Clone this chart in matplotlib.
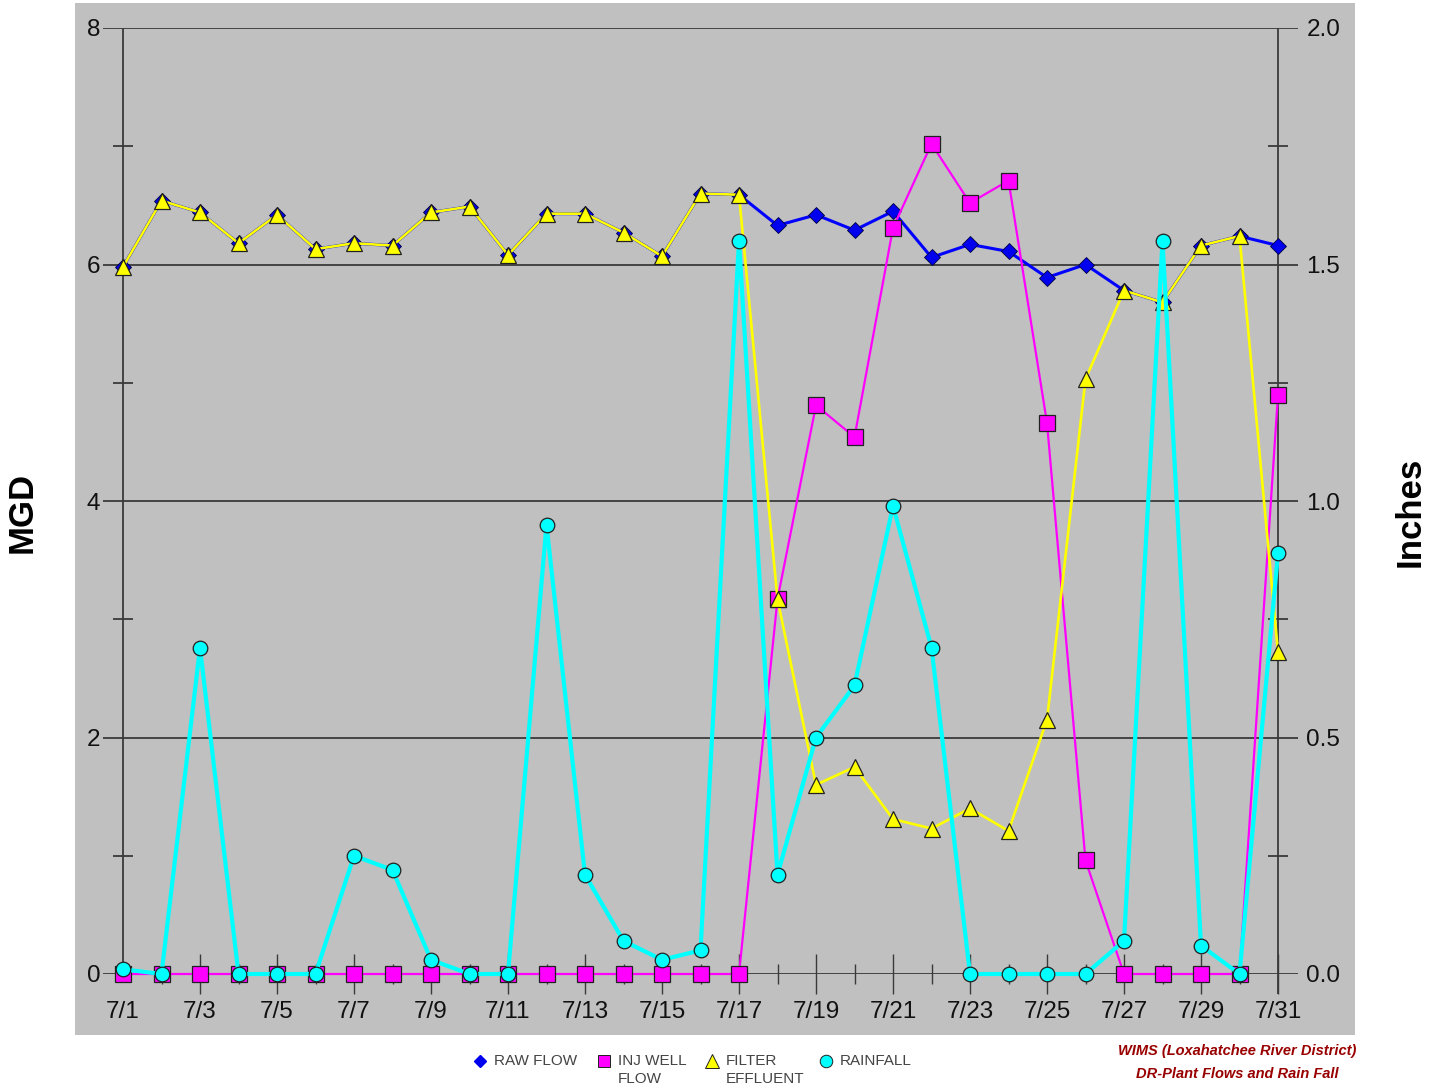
import matplotlib
matplotlib.use("Agg")
import matplotlib.pyplot as plt
from matplotlib.patches import Rectangle

plt.rcParams['font.family'] = ['Liberation Sans', 'DejaVu Sans']

# ---------------- data ----------------
days = list(range(1, 32))
label_days = list(range(1, 32, 2))
minor_days = list(range(2, 31, 2))
xlabels = [f"7/{d}" for d in label_days]

raw_flow = [5.98, 6.54, 6.44, 6.18, 6.42, 6.13, 6.18, 6.16, 6.44, 6.49,
            6.08, 6.43, 6.43, 6.27, 6.07, 6.60, 6.59, 6.33, 6.42, 6.29,
            6.45, 6.06, 6.17, 6.11, 5.89, 6.00, 5.78, 5.68, 6.16, 6.24, 6.16]
inj_well = [0, 0, 0, 0, 0, 0, 0, 0, 0, 0,
            0, 0, 0, 0, 0, 0, 0, 3.17, 4.81, 4.54,
            6.31, 7.02, 6.52, 6.71, 4.66, 0.96, 0, 0, 0, 0, 4.90]
filter_eff = [5.98, 6.54, 6.44, 6.18, 6.42, 6.13, 6.18, 6.16, 6.44, 6.49,
              6.08, 6.43, 6.43, 6.27, 6.07, 6.60, 6.59, 3.17, 1.60, 1.75,
              1.31, 1.23, 1.40, 1.21, 2.15, 5.03, 5.78, 5.68, 6.16, 6.24, 2.72]
rainfall = [0.01, 0.0, 0.69, 0.0, 0.0, 0.0, 0.25, 0.22, 0.03, 0.0,
            0.0, 0.95, 0.21, 0.07, 0.03, 0.05, 1.55, 0.21, 0.50, 0.61,
            0.99, 0.69, 0.0, 0.0, 0.0, 0.0, 0.07, 1.55, 0.06, 0.0, 0.89]

left_ticks = [0, 2, 4, 6, 8]
left_minor = [1, 3, 5, 7]
right_ticks = [0.0, 0.5, 1.0, 1.5, 2.0]
right_labels = ["0.0", "0.5", "1.0", "1.5", "2.0"]

series_names = ["RAW FLOW", "INJ WELL\nFLOW", "FILTER\nEFFLUENT", "RAINFALL"]

# ---------------- figure ----------------
W, H = 1440, 1086
fig = plt.figure(figsize=(W / 100, H / 100), dpi=100)
fig.patch.set_facecolor('white')

def fx(px):
    return px / W

def fy(py):
    return 1 - py / H

fig.patches.append(Rectangle((fx(75), fy(1035)), (1355 - 75) / W, (1035 - 3) / H,
                             transform=fig.transFigure, facecolor='#c0c0c0',
                             edgecolor='none', zorder=-10))

px_day = 38.5
px_unit = 118.25
ax = fig.add_axes([fx(103), fy(974), (1298 - 103) / W, (974 - 28) / H])
ax.set_facecolor('none')
for s in ax.spines.values():
    s.set_visible(False)
ax.set_xlim(1 - 20 / px_day, 31 + 20 / px_day)
ax.set_ylim(0, 8)

gcol = '#3a3a3a'
for v in left_ticks:
    ax.axhline(v, color=gcol, lw=1.3, zorder=1)
ax.vlines(days[0], 0, 8, color=gcol, lw=1.3, zorder=1)
ax.vlines(days[-1], -20 / px_unit, 8, color=gcol, lw=1.3, zorder=1, clip_on=False)
for d in (days[0], days[-1]):
    ax.hlines(left_minor, d - 10 / px_day, d + 10 / px_day, color=gcol, lw=1.3, zorder=1)

ax.set_xticks(label_days)
ax.set_xticklabels(xlabels)
ax.set_xticks(minor_days, minor=True)
ax.tick_params(axis='x', which='major', direction='inout', length=28.8, width=1.0,
               color=gcol, pad=5, labelsize=17.5, labelcolor='#111111')
ax.tick_params(axis='x', which='minor', direction='inout', length=14.4, width=1.0,
               color=gcol)
ax.xaxis.get_major_ticks()[0].tick1line.set_visible(False)

ax.set_yticks(left_ticks)
ax.set_yticklabels([str(v) for v in left_ticks])
ax.tick_params(axis='y', length=0, pad=2, labelsize=17.5, labelcolor='#111111')

ecol = '#202020'
ax.plot(days, raw_flow, color='#0000ff', lw=2.2, marker='D', ms=8.5,
        mfc='#0000ee', mec='#000040', mew=0.6, zorder=3, clip_on=False)
ax.plot(days, inj_well, color='#ff00ff', lw=1.6, marker='s', ms=11,
        mfc='#ff00ff', mec=ecol, mew=0.9, zorder=4, clip_on=False)
ax.plot(days, filter_eff, color='#ffff00', lw=1.9, marker='^', ms=12,
        mfc='#ffff00', mec=ecol, mew=0.9, zorder=5, clip_on=False)

ax2 = ax.twinx()
ax2.set_facecolor('none')
for s in ax2.spines.values():
    s.set_visible(False)
ax2.set_ylim(0, 2)
ax2.set_yticks(right_ticks)
ax2.set_yticklabels(right_labels)
ax2.tick_params(axis='y', length=0, pad=6, labelsize=17.5, labelcolor='#111111')
ax2.plot(days, rainfall, color='#00ffff', lw=3.0, marker='o', ms=10.5,
         mfc='#00ffff', mec=ecol, mew=0.9, zorder=6, clip_on=False)

# axis titles
fig.text(fx(22), fy(512), 'MGD', rotation=90, fontsize=25, fontweight='bold',
         ha='center', va='center', color='black')
fig.text(fx(1410), fy(512), 'Inches', rotation=90, fontsize=25, fontweight='bold',
         ha='center', va='center', color='black')

# legend (manual, bottom centre)
ov = fig.add_axes([0, 0, 1, 1])
ov.set_xlim(0, W)
ov.set_ylim(H, 0)
ov.axis('off')
leg_x = [480, 604, 712, 826]
leg_y = 1061
leg_style = [dict(marker='D', ms=6.5, mfc='#0000ee', mec='#0000ee'),
             dict(marker='s', ms=9, mfc='#ff00ff', mec=ecol, mew=0.7),
             dict(marker='^', ms=10, mfc='#ffff00', mec=ecol, mew=0.7),
             dict(marker='o', ms=9, mfc='#00ffff', mec=ecol, mew=0.7)]
for x0, name, st in zip(leg_x, series_names, leg_style):
    ov.plot([x0], [leg_y], ls='none', **st)
    ov.text(x0 + 14, leg_y - 7, name, fontsize=11, color='#444444',
            ha='left', va='top', linespacing=1.32)

# credits
fig.text(fx(1237), fy(1051), 'WIMS (Loxahatchee River District)', fontsize=10.5,
         fontweight='bold', style='italic', color='#990000', ha='center', va='center')
fig.text(fx(1237), fy(1074), 'DR-Plant Flows and Rain Fall', fontsize=10.5,
         fontweight='bold', style='italic', color='#990000', ha='center', va='center')

fig.savefig('out.png', dpi=100)
